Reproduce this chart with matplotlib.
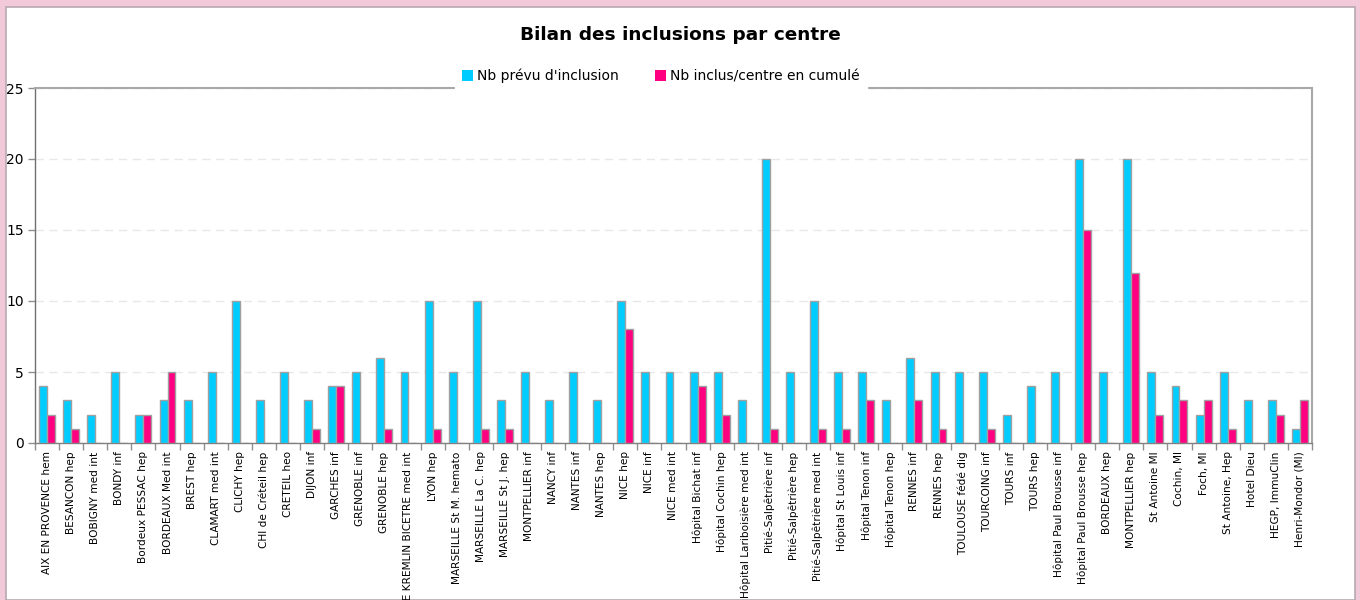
import matplotlib
matplotlib.use('Agg')
import matplotlib.pyplot as plt
import numpy as np
from matplotlib.patches import Rectangle

centres = ["AIX EN PROVENCE hem", "BESANCON hep", "BOBIGNY med int", "BONDY inf",
           "Bordeux PESSAC hep", "BORDEAUX Med int", "BREST hep", "CLAMART med int",
           "CLICHY hep", "CHI de Créteil hep", "CRETEIL heo", "DIJON inf",
           "GARCHES inf", "GRENOBLE inf", "GRENOBLE hep", "LE KREMLIN BICETRE med int",
           "LYON hep", "MARSEILLE St M. hemato", "MARSEILLE La C. hep", "MARSEILLE St J. hep",
           "MONTPELLIER inf", "NANCY inf", "NANTES inf", "NANTES hep",
           "NICE hep", "NICE inf", "NICE med int", "Hôpital Bichat inf",
           "Hôpital Cochin hep", "Hôpital Lariboisière med int", "Pitié-Salpêtrière inf",
           "Pitié-Salpêtrière hep", "Pitié-Salpêtrière med int", "Hôpital St Louis inf",
           "Hôpital Tenon inf", "Hôpital Tenon hep", "RENNES inf", "RENNES hep",
           "TOULOUSE fédé dig", "TOURCOING inf", "TOURS inf", "TOURS hep",
           "Hôpital Paul Brousse inf", "Hôpital Paul Brousse hep", "BORDEAUX hep",
           "MONTPELLIER hep", "St Antoine MI", "Cochin, MI", "Foch, MI",
           "St Antoine, Hep", "Hotel Dieu", "HEGP, ImmuClin", "Henri-Mondor (MI)"]

prevu = [4, 3, 2, 5, 2, 3, 3, 5, 10, 3, 5, 3, 4, 5, 6, 5, 10, 5, 10, 3,
         5, 3, 5, 3, 10, 5, 5, 5, 5, 3, 20, 5, 10, 5, 5, 3, 6, 5, 5, 5,
         2, 4, 5, 20, 5, 20, 5, 4, 2, 5, 3, 3, 1]

inclus = [2, 1, 0, 0, 2, 5, 0, 0, 0, 0, 0, 1, 4, 0, 1, 0, 1, 0, 1, 1,
          0, 0, 0, 0, 8, 0, 0, 4, 2, 0, 1, 0, 1, 1, 3, 0, 3, 1, 0, 1,
          0, 0, 0, 15, 0, 12, 2, 3, 3, 1, 0, 2, 3]

series_names = ["Nb prévu d'inclusion", "Nb inclus/centre en cumulé"]
yticks = [0, 5, 10, 15, 20, 25]

fig = plt.figure(figsize=(13.6, 6), dpi=100)
fig.patch.set_facecolor('#F2C9D8')
# panneau blanc derriere le graphique
fig.patches.append(Rectangle((6 / 1360, 0), 1349 / 1360, 1 - 7 / 600,
                             transform=fig.transFigure, facecolor='white',
                             edgecolor='#B8A8B0', linewidth=1.2, zorder=-10))

ax = fig.add_axes([35 / 1360, 1 - 443 / 600, 1277 / 1360, 355 / 600])
ax.set_facecolor('white')

x = np.arange(len(centres))
w = 0.33
ax.bar(x - w / 2, prevu, w, color='#00CCFF', edgecolor='#A0A0A0', linewidth=1,
       label=series_names[0], zorder=3)
ax.bar(x + w / 2, inclus, w, color='#FF0080', edgecolor='#A0A0A0', linewidth=1,
       label=series_names[1], zorder=3)

ax.set_xlim(-0.5, len(centres) - 0.5)
ax.set_ylim(0, 25)
ax.set_yticks(yticks)
ax.set_yticklabels([str(v) for v in yticks], fontsize=10)
ax.yaxis.grid(True, linestyle=(0, (6, 4)), color='#E8E8E8', linewidth=1)
ax.set_axisbelow(True)

ax.set_xticks(x)
ax.set_xticklabels(centres, rotation=90, fontsize=7.6)
ax.set_xticks(np.arange(len(centres) + 1) - 0.5, minor=True)
ax.tick_params(axis='x', which='major', length=0, pad=6)
ax.tick_params(axis='x', which='minor', length=5, color='#909090', width=1)
ax.tick_params(axis='y', length=5, color='#909090', width=1, pad=3)

for side in ['top', 'right']:
    ax.spines[side].set_color('#A8A8A8')
    ax.spines[side].set_linewidth(1.5)
ax.spines['left'].set_color('#707070')
ax.spines['bottom'].set_color('#808080')
ax.spines['left'].set_linewidth(1)
ax.spines['bottom'].set_linewidth(1)

fig.text(680 / 1360, 1 - 35 / 600, "Bilan des inclusions par centre",
         ha='center', va='center', fontsize=13.3, fontweight='bold')

leg = ax.legend(loc='center', bbox_to_anchor=(661 / 1360, 1 - 76 / 600),
                bbox_transform=fig.transFigure, ncol=2, frameon=True,
                fontsize=10, handlelength=0.8, handleheight=0.8,
                handletextpad=0.3, columnspacing=2.6, borderpad=0.5,
                fancybox=False)
leg.get_frame().set_facecolor('white')
leg.get_frame().set_edgecolor('white')
leg.get_frame().set_alpha(1)
for h in leg.legend_handles:
    h.set_edgecolor('none')

fig.savefig('out.png', dpi=100, facecolor=fig.get_facecolor())
